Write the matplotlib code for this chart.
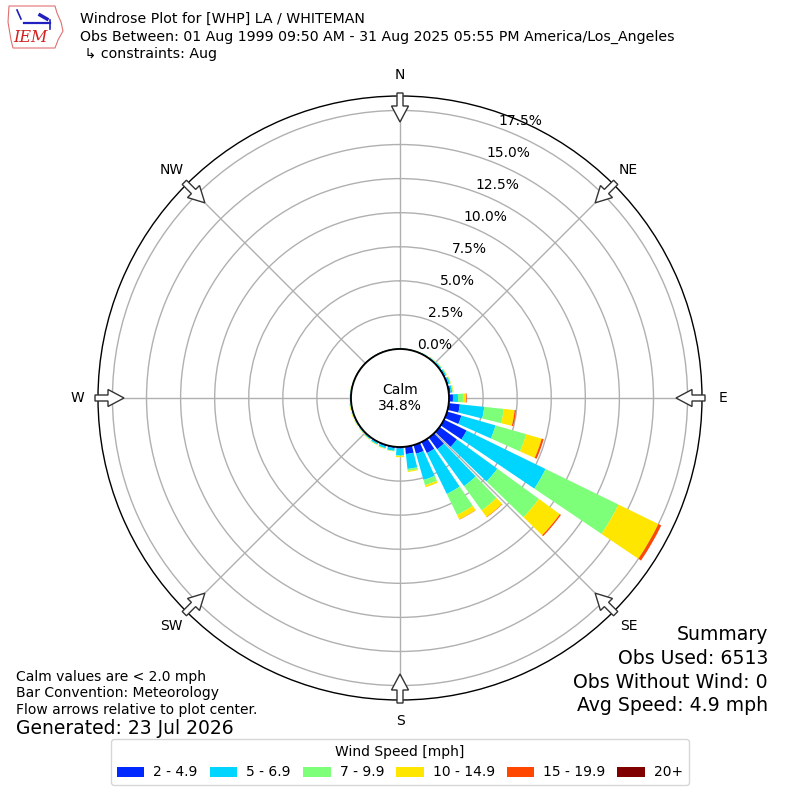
import numpy as np
import matplotlib
matplotlib.use("Agg")
import matplotlib.pyplot as plt
from matplotlib.patches import Circle, FancyArrow, Patch, Polygon
from matplotlib.lines import Line2D

plt.rcParams['font.family'] = ['DejaVu Sans']

# ---------------- data ----------------
directions = list(range(0, 360, 10))
speed_labels = ["2 - 4.9", "5 - 6.9", "7 - 9.9", "10 - 14.9", "15 - 19.9", "20+"]
speed_2_5 = [0.02, 0.02, 0.03, 0.04, 0.05, 0.07, 0.08, 0.10, 0.14, 0.29, 0.82, 1.09,
             1.84, 1.57, 1.05, 0.90, 0.66, 0.54, 0.12, 0.10, 0.09, 0.07, 0.05, 0.04,
             0.04, 0.03, 0.03, 0.03, 0.03, 0.02, 0.02, 0.02, 0.02, 0.02, 0.02, 0.02]
speed_5_7 = [0.02, 0.02, 0.03, 0.04, 0.06, 0.08, 0.10, 0.12, 0.12, 0.37, 1.80, 2.61,
             6.45, 3.66, 3.35, 3.34, 2.00, 1.10, 0.50, 0.20, 0.15, 0.12, 0.09, 0.06,
             0.05, 0.04, 0.04, 0.04, 0.04, 0.03, 0.03, 0.02, 0.02, 0.02, 0.02, 0.02]
speed_7_10 = [0.01, 0.01, 0.01, 0.01, 0.02, 0.03, 0.04, 0.05, 0.05, 0.37, 1.44, 2.34,
              5.95, 3.77, 2.20, 1.71, 0.40, 0.14, 0.03, 0.03, 0.03, 0.03, 0.03, 0.03,
              0.03, 0.04, 0.04, 0.03, 0.02, 0.02, 0.01, 0.01, 0.01, 0.01, 0.01, 0.01]
speed_10_15 = [0.00, 0.00, 0.01, 0.01, 0.02, 0.02, 0.03, 0.03, 0.04, 0.22, 0.80, 1.18,
               3.26, 1.90, 0.60, 0.37, 0.15, 0.08, 0.10, 0.02, 0.03, 0.03, 0.03, 0.02,
               0.03, 0.04, 0.04, 0.02, 0.01, 0.01, 0.01, 0.01, 0.00, 0.00, 0.00, 0.00]
speed_15_20 = [0.00, 0.00, 0.00, 0.00, 0.00, 0.00, 0.00, 0.00, 0.00, 0.05, 0.10, 0.15,
               0.22, 0.10, 0.03, 0.02, 0.00, 0.00, 0.00, 0.00, 0.00, 0.00, 0.00, 0.00,
               0.00, 0.00, 0.00, 0.00, 0.00, 0.00, 0.00, 0.00, 0.00, 0.00, 0.00, 0.00]
speed_20p = [0.00, 0.00, 0.00, 0.00, 0.00, 0.00, 0.00, 0.00, 0.00, 0.00, 0.00, 0.00,
             0.01, 0.00, 0.00, 0.00, 0.00, 0.00, 0.00, 0.00, 0.00, 0.00, 0.00, 0.00,
             0.00, 0.00, 0.00, 0.00, 0.00, 0.00, 0.00, 0.00, 0.00, 0.00, 0.00, 0.00]
calm_pct = 34.8
rticks = [0.0, 2.5, 5.0, 7.5, 10.0, 12.5, 15.0, 17.5]
compass = ["N", "NE", "E", "SE", "S", "SW", "W", "NW"]
summary = ["Summary", "Obs Used: 6513", "Obs Without Wind: 0", "Avg Speed: 4.9 mph"]
notes = ["Calm values are < 2.0 mph", "Bar Convention: Meteorology",
         "Flow arrows relative to plot center."]
title_lines = ["Windrose Plot for [WHP] LA / WHITEMAN",
               "Obs Between: 01 Aug 1999 09:50 AM - 31 Aug 2025 05:55 PM America/Los_Angeles",
               " \u21b3 constraints: Aug"]

series = [speed_2_5, speed_5_7, speed_7_10, speed_10_15, speed_15_20, speed_20p]
colors = plt.cm.jet(np.linspace(1 / 6, 1, 6))

# ---------------- figure ----------------
fig = plt.figure(figsize=(8, 8), dpi=100)
R_PX = 302.0
CX, CY = 400.0, 402.0  # from bottom
ax = fig.add_axes([(CX - R_PX) / 800, (CY - R_PX) / 800, 2 * R_PX / 800, 2 * R_PX / 800],
                  projection='polar')
ax.set_theta_zero_location('N')
ax.set_theta_direction(-1)

rmax = 18.56
calm_px = 49.0
rorig = calm_px / (R_PX - calm_px) * rmax
ax.set_ylim(0, rmax)
ax.set_rorigin(-rorig)

theta = np.deg2rad(directions)
width = np.deg2rad(10) * 0.8
bottom = np.zeros(len(directions))
for vals, col in zip(series, colors):
    v = np.array(vals)
    ax.bar(theta, v, width=width, bottom=bottom, color=col, edgecolor='none',
           linewidth=0, zorder=3)
    bottom = bottom + v

ax.set_yticks(rticks)
ax.set_yticklabels([])
for t in rticks:
    ax.text(np.deg2rad(20), t, f"{t:.1f}%", ha='left', va='bottom', fontsize=10,
            zorder=8)
ax.set_xticks(np.deg2rad(np.arange(0, 360, 45)))
ax.set_xticklabels([])
ax.grid(True, color='#b0b0b0', linewidth=1.0)
ax.spines['polar'].set_linewidth(1.0)

# calm circle
ax.add_patch(Circle((0.5, 0.5), calm_px / (2 * R_PX), transform=ax.transAxes,
                    facecolor='white', edgecolor='black', linewidth=1.3, zorder=5,
                    clip_on=False))
ax.text(0.5, 0.5, f"Calm\n{calm_pct:.1f}%", transform=ax.transAxes, ha='center',
        va='center', fontsize=10, zorder=6)

# compass labels and flow arrows
for i, lab in enumerate(compass):
    ang = np.deg2rad(i * 45)
    rl = 323 / (2 * R_PX)
    ax.text(0.5 + rl * np.sin(ang), 0.5 + rl * np.cos(ang), lab, transform=ax.transAxes,
            ha='center', va='center', fontsize=10)
    r0 = 305 / (2 * R_PX)
    L = 29 / (2 * R_PX)
    x0 = 0.5 + r0 * np.sin(ang)
    y0 = 0.5 + r0 * np.cos(ang)
    ax.add_patch(FancyArrow(x0, y0, -L * np.sin(ang), -L * np.cos(ang),
                            width=6 / (2 * R_PX), head_width=17 / (2 * R_PX),
                            head_length=16 / (2 * R_PX), length_includes_head=True,
                            transform=ax.transAxes, facecolor='white',
                            edgecolor='#333333', linewidth=1.0, zorder=7, clip_on=False))

# header
for k, line in enumerate(title_lines):
    fig.text(80 / 800, 1 - (19 + 17.5 * k) / 800, line, fontsize=10.15, va='center',
             ha='left')

# approximate IEM logo
def px(x, y):
    return (x / 800, 1 - y / 800)

outline = [px(9, 6), px(55, 6), px(57, 13), px(61, 22), px(63, 31), px(58, 40),
           px(55, 48), px(13, 48), px(11, 40), px(8, 22)]
fig.patches.append(Polygon(outline, closed=True, fill=False, edgecolor='#e07070',
                           linewidth=0.8, transform=fig.transFigure))
for (xa, ya), (xb, yb), lw in [((17, 10), (21, 19), 1.2), ((24, 23), (50, 23), 1.6),
                               ((40, 15), (47, 19), 2.5), ((50, 20), (50, 29), 1.2)]:
    fig.lines.append(Line2D([xa / 800, xb / 800], [1 - ya / 800, 1 - yb / 800],
                            color='#2020c0', linewidth=lw, transform=fig.transFigure))
fig.text(30 / 800, 1 - 38 / 800, "IEM", color='#d62020', fontsize=11.5, style='italic',
         family='DejaVu Serif', ha='center', va='center')

# notes
for k, line in enumerate(notes):
    fig.text(16 / 800, 1 - (677 + 16.5 * k) / 800, line, fontsize=10, va='center', ha='left')
fig.text(16 / 800, 1 - 729 / 800, "Generated: 23 Jul 2026", fontsize=13.5, va='center',
         ha='left')

# summary
for k, line in enumerate(summary):
    fig.text(768 / 800, 1 - (635 + 23.5 * k) / 800, line, fontsize=13.6, va='center',
             ha='right')

# legend
handles = [Patch(facecolor=c, edgecolor='none') for c in colors]
leg = fig.legend(handles, speed_labels, loc='lower center', bbox_to_anchor=(0.5, 0.01),
                 ncol=6, title="Wind Speed [mph]", fontsize=10, title_fontsize=10,
                 frameon=True, handleheight=0.7, columnspacing=0.85, handletextpad=0.65)
leg.get_frame().set_edgecolor('#cccccc')

fig.savefig("out.png", dpi=100)
